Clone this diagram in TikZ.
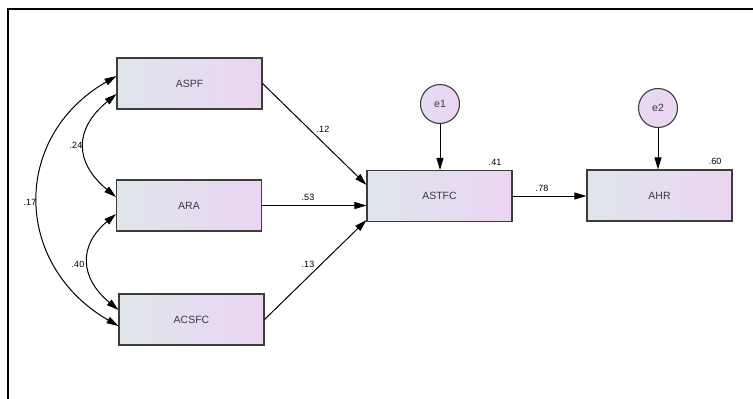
\documentclass[tikz,border=0pt]{standalone}
\usepackage{fontspec}
\setmainfont{Liberation Sans}
\usetikzlibrary{arrows.meta}
\definecolor{caixaesq}{HTML}{DEE5EB}
\definecolor{caixadir}{HTML}{ECD5F2}
\definecolor{borda}{HTML}{3C3C3C}
\definecolor{texto}{HTML}{3A3848}

\begin{document}
\begin{tikzpicture}[
    x=1pt, y=-1pt,
    >={Triangle[length=12pt,width=7pt]},
    font=\fontsize{10.5}{12}\selectfont,
    variavel/.style={draw=borda, line width=1.1pt, left color=caixaesq, right color=caixadir,
                     minimum width=145pt, minimum height=51pt, inner sep=0pt, text=texto},
    erro/.style={circle, draw=borda, line width=1.1pt, left color=caixaesq!40!caixadir,
                 right color=caixadir, minimum size=39pt, inner sep=0pt, text=texto},
    coef/.style={font=\fontsize{9}{11}\selectfont, text=black, inner sep=0pt},
    seta/.style={->, line width=1pt, black},
    covar/.style={<->, line width=1pt, black}
  ]

    \useasboundingbox (0,0) rectangle (753,399);

    % --- Moldura (recortada) ---
    \draw[line width=1.5pt] (8,399) -- (8,9) -- (753,9);

    % --- Exogenas ---
    \node[variavel] (aspf)  at (189.5,83.5)  {ASPF};
    \node[variavel] (ara)   at (189,205.5)   {ARA};
    \node[variavel] (acsfc) at (191.5,319.5) {ACSFC};

    % --- Endogenas ---
    \node[variavel] (astfc) at (439.5,196)   {ASTFC};
    \node[variavel] (ahr)   at (659.5,195.5) {AHR};

    % --- Erros ---
    \node[erro] (e1) at (440,104) {e1};
    \node[erro] (e2) at (658,108) {e2};

    % --- Caminhos ---
    \draw[seta] (aspf.east) -- ([yshift=11pt]astfc.west);
    \draw[seta] (ara.east) -- (ara.east -| astfc.west);
    \draw[seta] (acsfc.east) -- ([yshift=2pt]astfc.south west);
    \draw[seta] (astfc.east) -- (astfc.east -| ahr.west);
    \draw[seta] (e1) -- (astfc.north -| e1);
    \draw[seta] (e2) -- (ahr.north -| e2);

    % --- Covariancias ---
    \draw[covar] ([yshift=7.5pt]aspf.west) .. controls (11,137) and (13,265) .. ([yshift=-6.5pt]acsfc.west);
    \draw[covar] ([yshift=-10.5pt]aspf.west) .. controls (74,129) and (74,162) .. ([yshift=8.5pt]ara.west);
    \draw[covar] ([yshift=-8.5pt]ara.west) .. controls (78,246) and (80,278) .. ([yshift=9.5pt]acsfc.west);

    % --- Coeficientes ---
    \node[coef] (c12) at (323,129) {.12};
    \node[coef] (c53) at (308,197) {.53};
    \node[coef] (c13) at (308,264) {.13};
    \node[coef] (c78) at (542,188) {.78};
    \node[coef] (c24) at (76,145)  {.24};
    \node[coef] (c40) at (78,264)  {.40};
    \node[coef] (c17) at (30,202)  {.17};
    \node[coef] (r41) at (495,162) {.41};
    \node[coef] (r60) at (715,161) {.60};

  \end{tikzpicture}
\end{document}
